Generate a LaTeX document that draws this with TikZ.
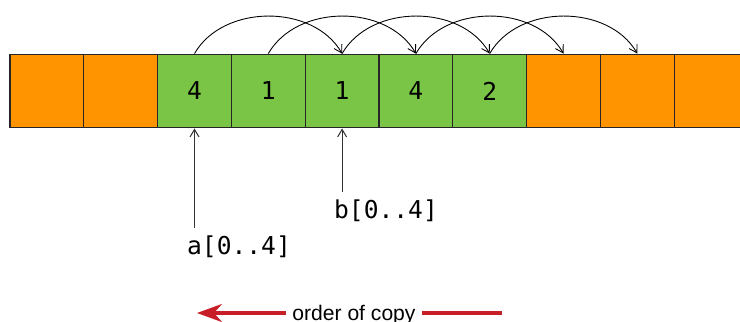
\documentclass[tikz,border=0pt]{standalone}
\usepackage{fontspec}
\setmonofont{DejaVu Sans Mono}
\setsansfont{Liberation Sans}
\usepackage{tikz}
\usetikzlibrary{arrows.meta}
\usetikzlibrary{positioning}
\usetikzlibrary{calc}
\definecolor{colorFREE}{RGB}{255,148,0}
\definecolor{colorUSED}{RGB}{122,196,70}
\definecolor{colorORD}{RGB}{200,30,40}
\tikzset{
   every path/.style={>={Straight Barb[length=1.5mm,width=1.8mm]}},
   cell/.style={rectangle,draw=black!85,line width=0.6pt,minimum width=1.476cm,
     minimum height=1.476cm,inner sep=0pt,font=\ttfamily\fontsize{14}{16}\selectfont},
   free/.style={cell,fill=colorFREE},
   used/.style={cell,fill=colorUSED},
   cp/.style={->,black,line width=0.5pt},
   ptr/.style={->,black!80,line width=0.6pt},
   lbl/.style={font=\ttfamily\fontsize{14}{16}\selectfont,inner sep=0pt},
   ord/.style={color=colorORD,line width=1.8pt},
}

\begin{document}
\begin{tikzpicture}

  \useasboundingbox (0,0) rectangle (14.8,-6.44);

  \node[free] (c0) at (0.938, -1.82)  {};
  \node[free] (c1) at (2.414, -1.82)  {};
  \node[used] (c2) at (3.890, -1.82)  {4};
  \node[used] (c3) at (5.366, -1.82)  {1};
  \node[used] (c4) at (6.842, -1.82)  {1};
  \node[used] (c5) at (8.318, -1.82)  {4};
  \node[used] (c6) at (9.794, -1.82)  {2};
  \node[free] (c7) at (11.270, -1.82) {};
  \node[free] (c8) at (12.746, -1.82) {};
  \node[free] (c9) at (14.222, -1.82) {};

  \draw[cp] (c2.north) to[out=60,in=120] (c4.north);
  \draw[cp] (c3.north) to[out=60,in=120] (c5.north);
  \draw[cp] (c4.north) to[out=60,in=120] (c6.north);
  \draw[cp] (c5.north) to[out=60,in=120] (c7.north);
  \draw[cp] (c6.north) to[out=60,in=120] (c8.north);

  \node[lbl] (la) at (4.78, -4.94) {a[0..4]};
  \node[lbl] (lb) at (7.72, -4.22) {b[0..4]};

  \draw[ptr] ($(la.north -| c2.south)+(0,0.16)$) -- (c2.south);
  \draw[ptr] ($(lb.north -| c4.south)+(0,0.16)$) -- (c4.south);

  \node[font=\sffamily\fontsize{12}{14}\selectfont,inner xsep=0.12cm,inner ysep=0pt,
        anchor=base] (ord) at (7.08, -6.41) {order of copy};
  \coordinate (ostart) at (10.04, -6.26);
  \coordinate (oend)   at (3.94, -6.26);

  \draw[ord] (ostart) -- (ostart -| ord.east);
  \draw[ord,-{Stealth[length=5mm,width=3.6mm]}] (ord.west |- oend) -- (oend);

\end{tikzpicture}
\end{document}
